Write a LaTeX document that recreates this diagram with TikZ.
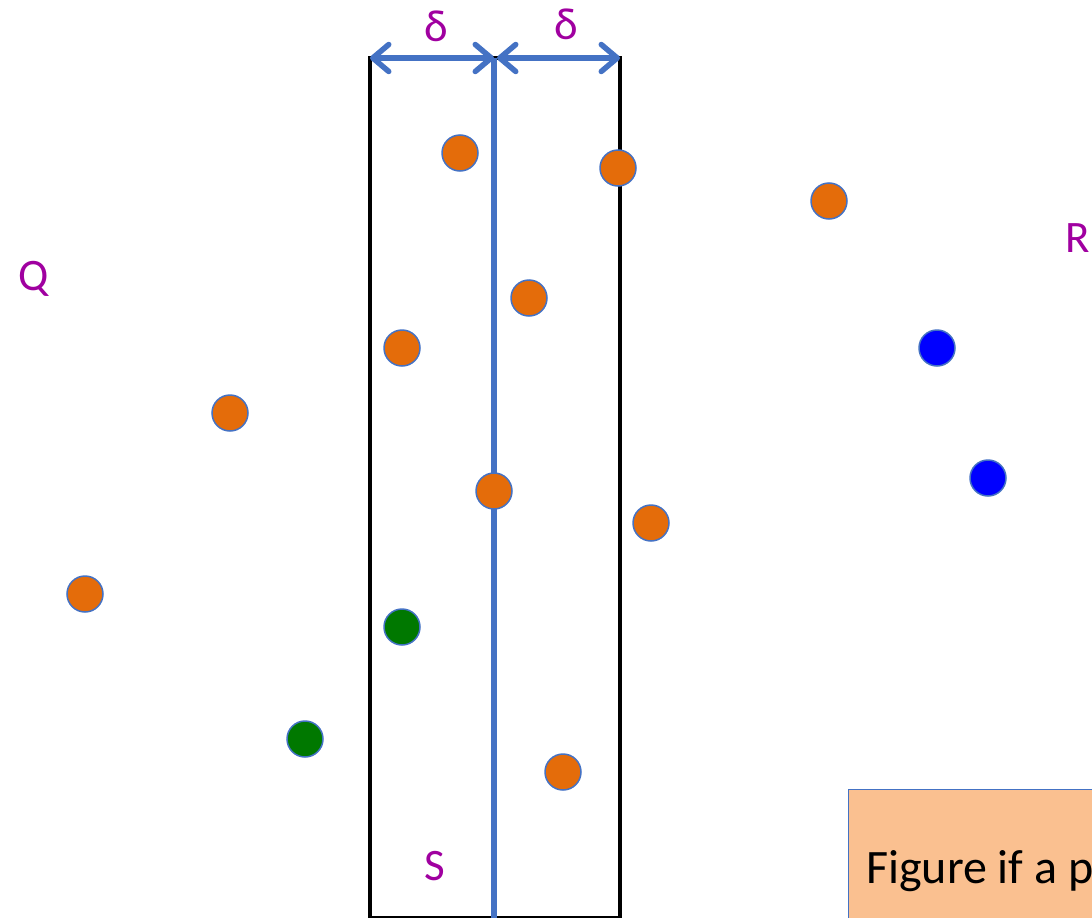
\documentclass[tikz,border=0pt]{standalone}
\usepackage{fontspec}
\setmainfont{Carlito}
\usetikzlibrary{arrows.meta}
\definecolor{lineblue}{RGB}{68,114,196}
\definecolor{dotorange}{RGB}{228,108,10}
\definecolor{dotgreen}{RGB}{0,120,0}
\definecolor{dotblue}{RGB}{0,0,255}
\definecolor{labelpurple}{RGB}{160,0,160}
\definecolor{notefill}{RGB}{250,192,144}
\tikzset{
  pt/.style={circle, draw=lineblue, line width=1.5pt, minimum size=36pt, inner sep=0pt},
  orangept/.style={pt, fill=dotorange},
  greenpt/.style={pt, fill=dotgreen},
  bluept/.style={pt, fill=dotblue},
  lbl/.style={text=labelpurple, font=\fontsize{45}{47}\selectfont, inner sep=0pt},
  strip/.style={draw=black, line width=3.6pt},
  barb/.tip={Straight Barb[length=16pt,width=27pt,line width=5.5pt,round]},
  dimarrow/.style={draw=lineblue, line width=5.5pt, {barb}-{barb}},
}
\begin{document}
\begin{tikzpicture}[x=1pt,y=-1pt]
\useasboundingbox (0,0) rectangle (1092,918);
\clip (0,0) rectangle (1092,918);
% the 2-delta strip around the dividing line
\coordinate (tl) at (370,58);
\coordinate (tm) at (494,58);
\coordinate (tr) at (620,58);
\coordinate (bl) at (370,918);
\coordinate (bm) at (494,918);
\coordinate (br) at (620,918);
\draw[strip] (bl) -- (tl) -- (tr) -- (br) -- cycle;
\draw[draw=lineblue, line width=6pt] (tm) -- (bm);
\draw[dimarrow] (tl) -- (tm);
\draw[dimarrow] ([xshift=3pt]tm) -- (tr);
\node[lbl] (d1) at (436,26) {δ};
\node[lbl] (d2) at (566,24) {δ};
% points
\node[orangept] (p1) at (460,153) {};
\node[orangept] (p2) at (618,168) {};
\node[orangept] (p3) at (829,201) {};
\node[orangept] (p4) at (529,298) {};
\node[orangept] (p5) at (402,348) {};
\node[orangept] (p6) at (230,413) {};
\node[orangept] (p7) at (494,491) {};
\node[orangept] (p8) at (651,523) {};
\node[orangept] (p9) at (85,594) {};
\node[orangept] (p10) at (563,772) {};
\node[greenpt] (g1) at (402,627) {};
\node[greenpt] (g2) at (305,739) {};
\node[bluept] (b1) at (937,348) {};
\node[bluept] (b2) at (988,478) {};
% labels
\node[lbl] (Q) at (34,279) {Q};
\node[lbl] (R) at (1078,238) {R};
\node[lbl] (S) at (435,866) {S};
% note box
\draw[fill=notefill, draw=lineblue, line width=1pt] (848,789) rectangle (1110,930);
\node[anchor=base west, inner sep=0pt, font=\fontsize{48}{52}\selectfont] (note) at (866,883) {Figure if a p};
\end{tikzpicture}
\end{document}
